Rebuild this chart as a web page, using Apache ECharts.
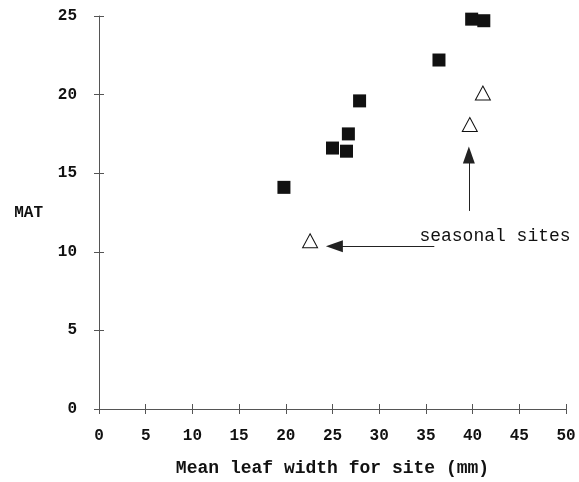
<!DOCTYPE html>
<html><head><meta charset="utf-8">
<script src="https://cdn.jsdelivr.net/npm/echarts@6/dist/echarts.min.js"></script>
<style>html,body{margin:0;padding:0;background:#fff}#c{width:579px;height:482px}</style>
</head><body><div id="c"></div>
<script>
// Data
const allSites = [[19.8,14.1],[25.0,16.6],[26.5,16.4],[26.7,17.5],[27.9,19.6],[36.4,22.2],[39.9,24.8],[41.2,24.7]];
const seasonalSites = [[41.1,20.1],[39.7,18.1],[22.6,10.7]];
const xTicks = [0,5,10,15,20,25,30,35,40,45,50];
const yTicks = [0,5,10,15,20,25];
const xTitle = 'Mean leaf width for site (mm)';
const yTitle = 'MAT';
const noteText = 'seasonal sites';
const notePos = [42.4, 11.0];
const arrowUp = [[39.6,12.6],[39.6,16.15]];
const arrowLeft = [[35.9,10.35],[25.2,10.35]];

const FONT = '"Liberation Mono", "DejaVu Sans Mono", monospace';
const chart = echarts.init(document.getElementById('c'));
const axisCommon = {
  min: 0, interval: 5, splitLine:{show:false},
  axisLine:{show:true, lineStyle:{color:'#555', width:1}},
  axisTick:{show:true, length:5, lineStyle:{color:'#555'}},
};
chart.setOption({
  animation:false,
  grid:{left:99, right:13, top:16, bottom:70},
  xAxis:[
    Object.assign({}, axisCommon, {type:'value', max:50,
      name:xTitle, nameLocation:'middle', nameGap:50,
      nameTextStyle:{fontFamily:FONT, fontWeight:'bold', fontSize:18, color:'#111'},
      axisLabel:{fontFamily:FONT, fontWeight:'bold', fontSize:16, color:'#111', margin:19}}),
    Object.assign({}, axisCommon, {type:'value', max:50, position:'bottom',
      axisLine:{show:false}, axisLabel:{show:false},
      axisTick:{show:true, inside:true, length:5, lineStyle:{color:'#555'}}})
  ],
  yAxis:[
    Object.assign({}, axisCommon, {type:'value', max:25,
      name:yTitle, nameLocation:'middle', nameRotate:0, nameGap:56,
      nameTextStyle:{fontFamily:FONT, fontWeight:'bold', fontSize:16, color:'#111'},
      axisLabel:{fontFamily:FONT, fontWeight:'bold', fontSize:16, color:'#111', margin:22}}),
    Object.assign({}, axisCommon, {type:'value', max:25, position:'left',
      axisLine:{show:false}, axisLabel:{show:false},
      axisTick:{show:true, inside:true, length:5, lineStyle:{color:'#555'}}})
  ],
  series:[
    {type:'scatter', data:allSites, symbol:'rect', symbolSize:13,
      itemStyle:{color:'#111', opacity:1}},
    {type:'scatter', data:seasonalSites, symbol:'triangle', symbolSize:[15,14],
      itemStyle:{color:'#fff', borderColor:'#111', borderWidth:1, opacity:1},
      markLine:{silent:true, symbol:['none','triangle'], symbolSize:[12,17],
        lineStyle:{color:'#222', width:1, type:'solid'}, itemStyle:{color:'#111'}, label:{show:false},
        data:[
          [{coord:arrowUp[0]},{coord:arrowUp[1]}],
          [{coord:arrowLeft[0]},{coord:arrowLeft[1]}]
        ]},
      markPoint:{silent:true, symbol:'circle', symbolSize:0,
        label:{show:true, position:'inside', formatter:noteText,
          fontFamily:FONT, fontSize:18, color:'#111'},
        data:[{coord:notePos}]}
    }
  ]
});
</script></body></html>
